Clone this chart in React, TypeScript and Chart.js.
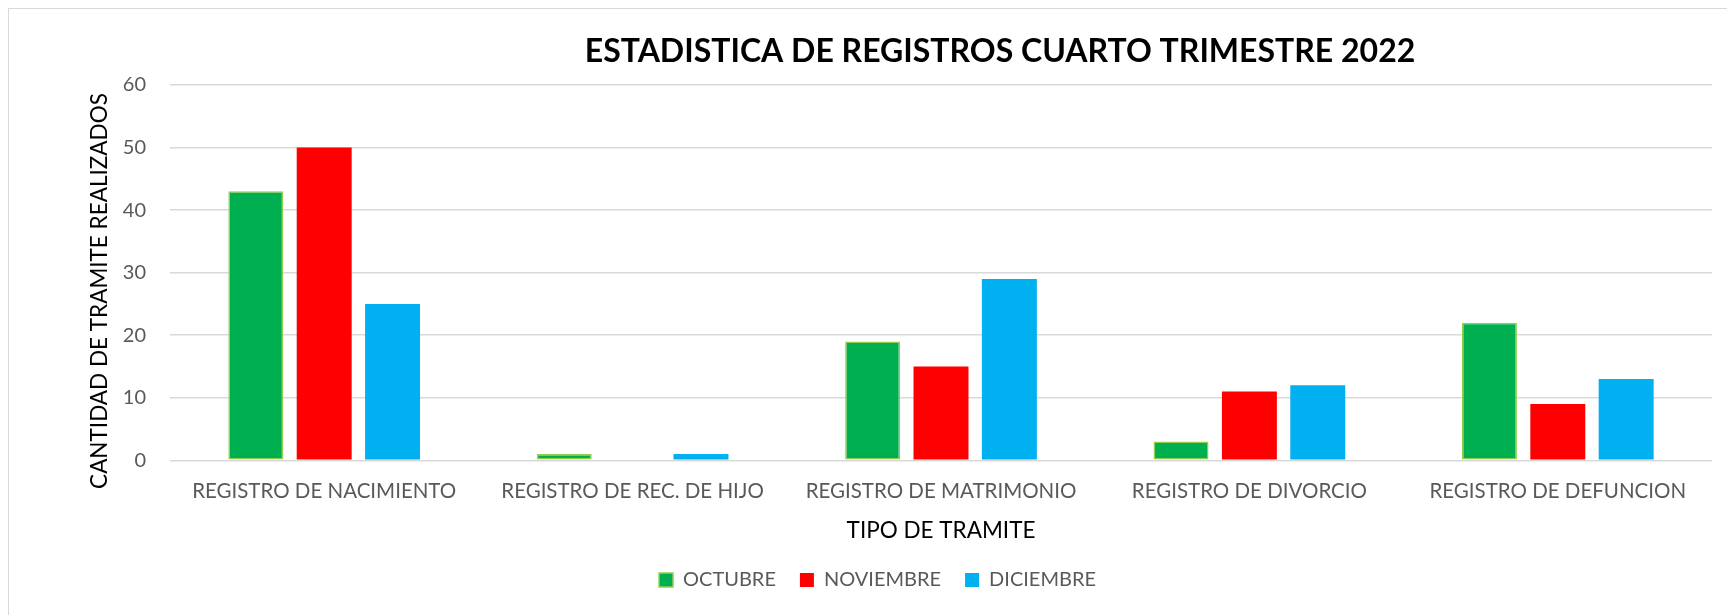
import React, { useEffect, useRef } from "react";
import { Chart, registerables } from "chart.js";

Chart.register(...registerables);

const chartTitle = "ESTADISTICA DE REGISTROS CUARTO TRIMESTRE 2022";
const yAxisTitle = "CANTIDAD DE TRAMITE REALIZADOS";
const xAxisTitle = "TIPO DE TRAMITE";

const categories = [
  "REGISTRO DE NACIMIENTO",
  "REGISTRO DE REC. DE HIJO",
  "REGISTRO DE MATRIMONIO",
  "REGISTRO DE DIVORCIO",
  "REGISTRO DE DEFUNCION",
];

const seriesNames = ["OCTUBRE", "NOVIEMBRE", "DICIEMBRE"];
const octubre = [43, 1, 19, 3, 22];
const noviembre = [50, 0, 15, 11, 9];
const diciembre = [25, 1, 29, 12, 13];

const yMin = 0;
const yMax = 60;
const yStep = 10;

const W = 1726;
const H = 606;

const textPlugin = {
  id: "customTexts",
  afterDraw(chart: any) {
    const ctx = chart.ctx;
    ctx.save();
    ctx.font = "bold 32px Lato";
    ctx.fillStyle = "#000000";
    ctx.textAlign = "center";
    ctx.textBaseline = "middle";
    ctx.fillText(chartTitle, 991, 43);
    ctx.restore();

    ctx.save();
    ctx.font = "22.5px Lato";
    ctx.fillStyle = "#000000";
    ctx.textAlign = "center";
    ctx.textBaseline = "middle";
    ctx.translate(91, 282);
    ctx.rotate(-Math.PI / 2);
    ctx.fillText(yAxisTitle, 0, 0);
    ctx.restore();
  },
};

export default function App() {
  const ref = useRef<HTMLCanvasElement | null>(null);

  useEffect(() => {
    document.documentElement.style.overflow = "hidden";
    const canvas = ref.current;
    if (!canvas) return;
    Chart.defaults.font.family = "Lato";
    const chart = new Chart(canvas, {
      type: "bar",
      data: {
        labels: categories,
        datasets: [
          {
            label: seriesNames[0],
            data: octubre,
            backgroundColor: "#00b050",
            borderColor: "#92d050",
            borderWidth: 1.5,
            borderSkipped: false,
          },
          {
            label: seriesNames[1],
            data: noviembre,
            backgroundColor: "#ff0000",
            borderWidth: 0,
          },
          {
            label: seriesNames[2],
            data: diciembre,
            backgroundColor: "#00b0f0",
            borderWidth: 0,
          },
        ],
      },
      options: {
        responsive: false,
        animation: false,
        datasets: {
          bar: { categoryPercentage: 0.665, barPercentage: 0.804 },
        },
        layout: { padding: { left: 11, right: 0, top: 76, bottom: 15 } },
        plugins: {
          title: { display: false },
          tooltip: { enabled: false },
          legend: {
            display: true,
            position: "bottom",
            labels: {
              boxWidth: 14,
              boxHeight: 14,
              padding: 24,
              color: "#595959",
              font: { size: 20, family: "Lato" },
            },
          },
        },
        scales: {
          x: {
            grid: { display: false, drawTicks: false },
            border: { display: false },
            ticks: {
              color: "#595959",
              font: { size: 20.5, family: "Lato" },
              padding: 18.7,
              maxRotation: 0,
              autoSkip: false,
            },
            title: {
              display: true,
              text: xAxisTitle,
              color: "#000000",
              font: { size: 22.5, family: "Lato" },
              padding: { top: 0, bottom: 1.5 },
            },
            afterFit: (s: any) => {
              s.height = 85.7;
            },
          },
          y: {
            min: yMin,
            max: yMax,
            grid: { color: "#d9d9d9", lineWidth: 1.5, drawTicks: false },
            border: { display: false },
            ticks: {
              stepSize: yStep,
              color: "#595959",
              font: { size: 20, family: "Lato" },
              padding: 24,
            },
            title: { display: false },
            afterFit: (s: any) => {
              s.width = 150;
            },
          },
          yR: {
            type: "linear",
            position: "right",
            display: true,
            grid: { display: false },
            border: { display: false },
            ticks: { display: false },
            afterFit: (s: any) => {
              s.width = 23;
            },
          },
        },
      },
      plugins: [textPlugin],
    } as any);
    return () => chart.destroy();
  }, []);

  return (
    <div
      style={{
        width: 1727,
        height: 607,
        boxSizing: "border-box",
        borderTop: "1px solid #d9d9d9",
        borderLeft: "1px solid #d9d9d9",
        overflow: "hidden",
      }}
    >
      <canvas ref={ref} width={W} height={H} style={{ width: W, height: H, display: "block" }} />
    </div>
  );
}
